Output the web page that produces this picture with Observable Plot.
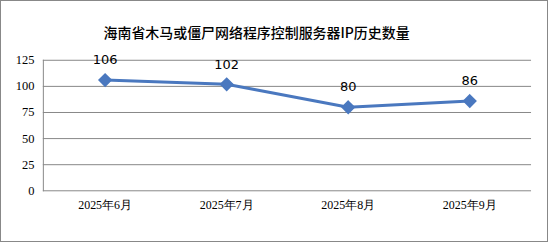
<!DOCTYPE html>
<html><head><meta charset="utf-8">
<script src="https://cdn.jsdelivr.net/npm/d3@7"></script>
<script src="https://cdn.jsdelivr.net/npm/@observablehq/plot@0.6"></script>
<style>
body{margin:0;background:#fff;}
#wrap{position:relative;width:548px;height:242px;box-sizing:border-box;border:1px solid #888;overflow:hidden;}
#wrap svg{position:absolute;left:-1px;top:-1px;}
</style></head>
<body><div id="wrap"></div>
<script>
const title = "海南省木马或僵尸网络程序控制服务器IP历史数量";
const months = ["2025年6月","2025年7月","2025年8月","2025年9月"];
const counts = [106,102,80,86];
const yTicks = [0,25,50,75,100,125];

const data = months.map((m,i)=>({month:m, count:counts[i]}));

const chart = Plot.plot({
  width: 548, height: 242,
  marginLeft: 43, marginRight: 15, marginTop: 60, marginBottom: 51,
  style:{background:"transparent", overflow:"visible"},
  x:{type:"point", domain:months, padding:0.5, label:null},
  y:{domain:[0,125], ticks:yTicks, label:null},
  marks:[
    Plot.ruleY(yTicks, {stroke:"#888", strokeWidth:1}),
    Plot.frame({anchor:"left", stroke:"#888"}),
    Plot.axisY({ticks:yTicks, tickSize:0, tickPadding:9, fontFamily:"Liberation Serif", fontSize:12.5, fill:"#000", label:null}),
    Plot.axisX({tickSize:0, tickPadding:10, fontFamily:"Liberation Serif", fontSize:12, fill:"#000", label:null}),
    Plot.line(data, {x:"month", y:"count", stroke:"#4a78bf", strokeWidth:3}),
    Plot.dot(data, {x:"month", y:"count", symbol:"diamond2", r:5.5, fill:"#4a78bf", stroke:"#4a78bf"}),
    Plot.text(data, {x:"month", y:"count", text:d=>String(d.count), dy:-20, fontFamily:"DejaVu Sans", fontSize:13, fill:"#000"}),
    Plot.text([title], {frameAnchor:"top", dy:-32, dx:-31, fontFamily:"Noto Sans CJK SC", fontSize:14, fontWeight:500, fill:"#000"})
  ]
});
document.getElementById("wrap").append(chart);
</script></body></html>
